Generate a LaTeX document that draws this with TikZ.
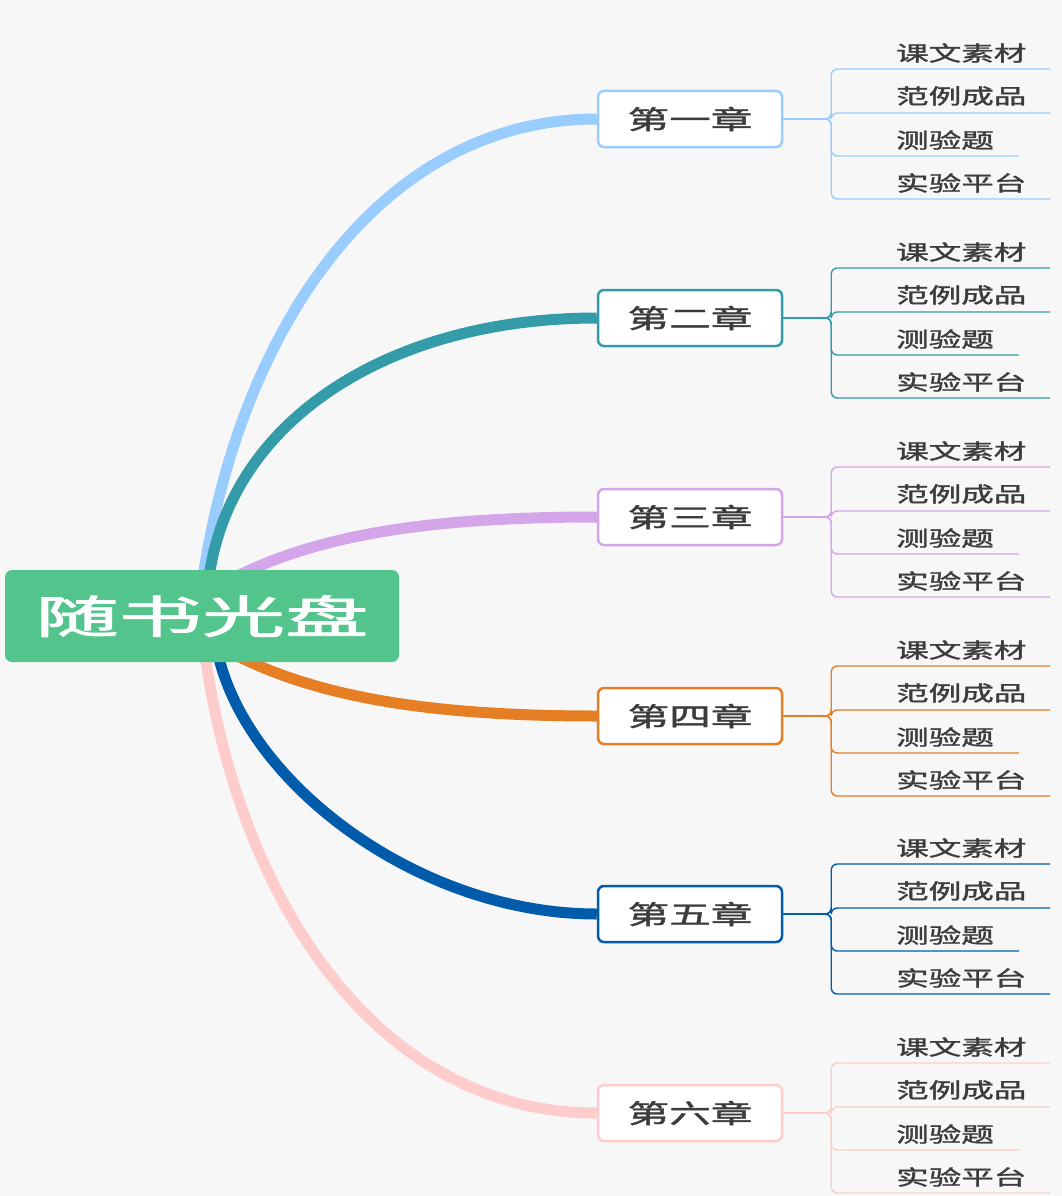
\documentclass[tikz,border=0pt]{standalone}
\usepackage{fontspec}
\usepackage{graphicx}
\usetikzlibrary{calc}
\newfontfamily\cjk[FakeBold=1.2]{Noto Sans CJK SC}
\newfontfamily\cjkroot[FakeBold=1.5]{Noto Sans CJK SC}
\newcommand\wide[2]{\scalebox{#1}[1]{#2}}
\definecolor{bgc}{RGB}{247,247,247}
\definecolor{rootc}{RGB}{82,196,140}
\definecolor{txt}{RGB}{60,60,60}
\definecolor{c1}{RGB}{153,204,255}
\definecolor{c2}{RGB}{52,155,168}
\definecolor{c3}{RGB}{212,165,232}
\definecolor{c4}{RGB}{230,126,36}
\definecolor{c5}{RGB}{0,92,170}
\definecolor{c6}{RGB}{255,204,204}
\pgfdeclarelayer{bglayer}
\pgfdeclarelayer{links}
\pgfsetlayers{bglayer,links,main}
\begin{document}
\begin{tikzpicture}[x=1pt,y=-1pt,
  rootbox/.style={fill=rootc, rounded corners=7pt, minimum width=394pt, minimum height=92pt, inner sep=0pt, text=white, font=\cjkroot\fontsize{45}{45}\selectfont},
  chap/.style={draw=#1, line width=2.5pt, fill=white, rounded corners=6pt, minimum width=184pt, minimum height=56pt, inner sep=0pt, text=txt, font=\cjk\fontsize{26}{26}\selectfont},
  leaf/.style={anchor=west, inner sep=0pt, text=txt, font=\cjk\fontsize{21}{21}\selectfont},
  br/.style={draw=#1, line width=11pt},
  twig/.style={draw=#1, line width=1.4pt, rounded corners=6pt}]
\begin{pgfonlayer}{bglayer}
\fill[bgc] (0,0) rectangle (1062,1196);
\end{pgfonlayer}
\useasboundingbox (0,0) rectangle (1062,1196);

% root
\node[rootbox] (r) at (202,616) {\wide{1.85}{随书光盘}};

% chapters
\node[chap=c1] (c1) at (690,119) {\wide{1.6}{第一章}};
\node[chap=c2] (c2) at (690,318) {\wide{1.6}{第二章}};
\node[chap=c3] (c3) at (690,517) {\wide{1.6}{第三章}};
\node[chap=c4] (c4) at (690,716) {\wide{1.6}{第四章}};
\node[chap=c5] (c5) at (690,914) {\wide{1.6}{第五章}};
\node[chap=c6] (c6) at (690,1113) {\wide{1.6}{第六章}};

% branch starts (hidden behind the root box)
\coordinate (s1) at ($(r.north)+(1,8)$);
\coordinate (s2) at ($(r.north)+(7,8)$);
\coordinate (s3) at ($(r.north)+(36,6)$);
\coordinate (s4) at ($(r.south)+(36,-6)$);
\coordinate (s5) at ($(r.south)+(16,-8)$);
\coordinate (s6) at ($(r.south)+(3,-8)$);

% main branches
\begin{pgfonlayer}{links}
\draw[br=c1] (s1) .. controls (240,330) and (380,119) .. (c1.west);
\draw[br=c2] (s2) .. controls (230,420) and (390,318) .. (c2.west);
\draw[br=c3] (s3) .. controls (320,535) and (430,517) .. (c3.west);
\draw[br=c4] (s4) .. controls (320,697) and (430,716) .. (c4.west);
\draw[br=c5] (s5) .. controls (248,785) and (420,914) .. (c5.west);
\draw[br=c6] (s6) .. controls (240,905) and (380,1113) .. (c6.west);
\end{pgfonlayer}

% leaves
\foreach \i/\Y in {1/119,2/318,3/517,4/716,5/914,6/1113}{
  \foreach \j/\t/\yo/\lo/\le in {1/课文素材/-66/-50/1050, 2/范例成品/-23/-6/1050, 3/测验题/21/37/1019, 4/实验平台/64/80/1050}{
    \node[leaf] (l\i-\j) at (896,{\Y+\yo}) {\wide{1.55}{\t}};
    \coordinate (e\i-\j) at (\le,{\Y+\lo});
    \begin{pgfonlayer}{links}
    \draw[twig=c\i] (c\i.east) -- ++(48,0) |- (e\i-\j);
    \end{pgfonlayer}
  }
}
\end{tikzpicture}
\end{document}
